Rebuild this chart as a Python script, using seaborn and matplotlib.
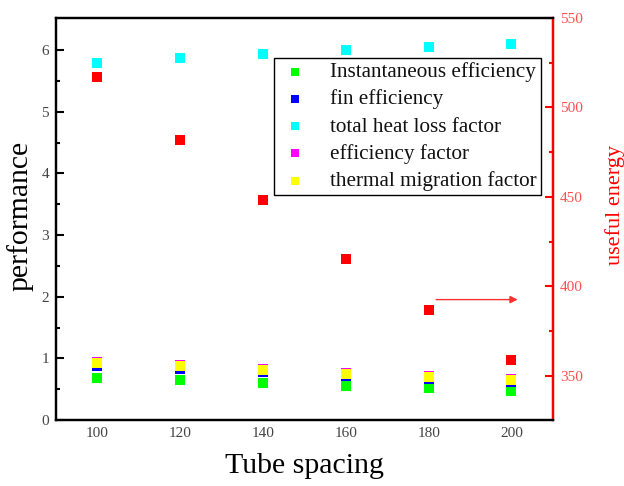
import matplotlib
matplotlib.use("Agg")
import matplotlib.pyplot as plt
import seaborn as sns
import pandas as pd

sns.set_theme(style="white")
plt.rcParams['font.family'] = ['Liberation Serif', 'DejaVu Serif']
plt.rcParams['mathtext.fontset'] = 'stix'

spacing = [100, 120, 140, 160, 180, 200]
instantaneous_eff = [0.684, 0.644, 0.595, 0.55, 0.52, 0.475]
fin_eff = [0.876, 0.83, 0.773, 0.713, 0.665, 0.61]
total_heat_loss = [5.786, 5.878, 5.94, 6.005, 6.05, 6.09]
eff_factor = [0.948, 0.887, 0.827, 0.767, 0.713, 0.67]
thermal_migration = [0.924, 0.87, 0.81, 0.75, 0.70, 0.653]
useful_energy = [517.0, 481.9, 448.2, 415.5, 387.0, 358.7]

series = [
    ("Instantaneous efficiency", instantaneous_eff, "#00ff00"),
    ("fin efficiency", fin_eff, "#0000ff"),
    ("total heat loss factor", total_heat_loss, "#00ffff"),
    ("efficiency factor", eff_factor, "#ff00ff"),
    ("thermal migration factor", thermal_migration, "#ffff00"),
]

fig = plt.figure(figsize=(6.24, 4.86), dpi=100)
ax = fig.add_axes([0.0897, 0.1358, 0.7963, 0.8272])
ax2 = ax.twinx()

for name, vals, col in series:
    df = pd.DataFrame({"x": spacing, "y": vals})
    sns.scatterplot(data=df, x="x", y="y", ax=ax, marker="s", s=42,
                    color=col, linewidth=0, label=name, zorder=3)

df_e = pd.DataFrame({"x": spacing, "y": useful_energy})
sns.scatterplot(data=df_e, x="x", y="y", ax=ax2, marker="s", s=42,
                color="#ff0000", linewidth=0, legend=False)

ax.set_xlim(90, 210)
ax.set_ylim(0, 6.52)
ax2.set_ylim(325.3, 550)

ax.set_xticks(spacing)
ax.set_xticks([110, 130, 150, 170, 190], minor=True)
ax.set_yticks([0, 1, 2, 3, 4, 5, 6])
ax.set_yticks([0.5, 1.5, 2.5, 3.5, 4.5, 5.5], minor=True)
ax2.set_yticks([350, 400, 450, 500, 550])
ax2.set_yticks([375, 425, 475, 525], minor=True)

ax.set_xlabel("Tube spacing", fontsize=21.5, color="black")
ax.set_ylabel("performance", fontsize=21.3, color="black")
ax2.set_ylabel("useful energy", fontsize=16, color="#ff0000")
ax.xaxis.set_label_coords(0.5, -0.083)
ax.yaxis.set_label_coords(-0.072, 0.507)
ax2.yaxis.set_label_coords(1.125, 0.535)
ax.xaxis.label.set_va("top")
ax.yaxis.label.set_va("center")
ax2.yaxis.label.set_va("center")

for a in (ax, ax2):
    for sp in a.spines.values():
        sp.set_linewidth(1.6)
        sp.set_color("black")
ax2.spines["right"].set_color("#ff0000")

ax.tick_params(axis="both", which="major", direction="in", length=6, width=1.5,
               labelsize=11, labelcolor="#444444", color="black", pad=5)
ax.tick_params(axis="both", which="minor", direction="in", length=3, width=1.5, color="black")
ax.tick_params(axis="y", right=False, which="both")
ax.tick_params(axis="x", top=False, which="both")
ax2.tick_params(axis="y", which="major", direction="in", length=6, width=1.5,
                labelsize=11, labelcolor="#ff5050", color="#ff0000", pad=5)
ax2.tick_params(axis="y", which="minor", direction="in", length=3, width=1.5, color="#ff0000")

ax2.annotate("", xy=(201.5, 392.6), xytext=(181.8, 392.6),
             arrowprops=dict(arrowstyle="-|>", color="#ff3030", lw=1.0,
                             mutation_scale=11, shrinkA=0, shrinkB=0))

leg = ax.legend(loc="upper left", bbox_to_anchor=(0.439, 0.9005), fontsize=15.2,
                frameon=True, fancybox=False, framealpha=1, edgecolor="black",
                borderpad=0.2, labelspacing=0.35, handletextpad=0.85,
                handlelength=1.6, borderaxespad=0, markerscale=0.95)
leg.get_frame().set_linewidth(1.0)
for t in leg.get_texts():
    t.set_color("#111111")
leg.set_zorder(5)

fig.savefig("out.png", dpi=100)
